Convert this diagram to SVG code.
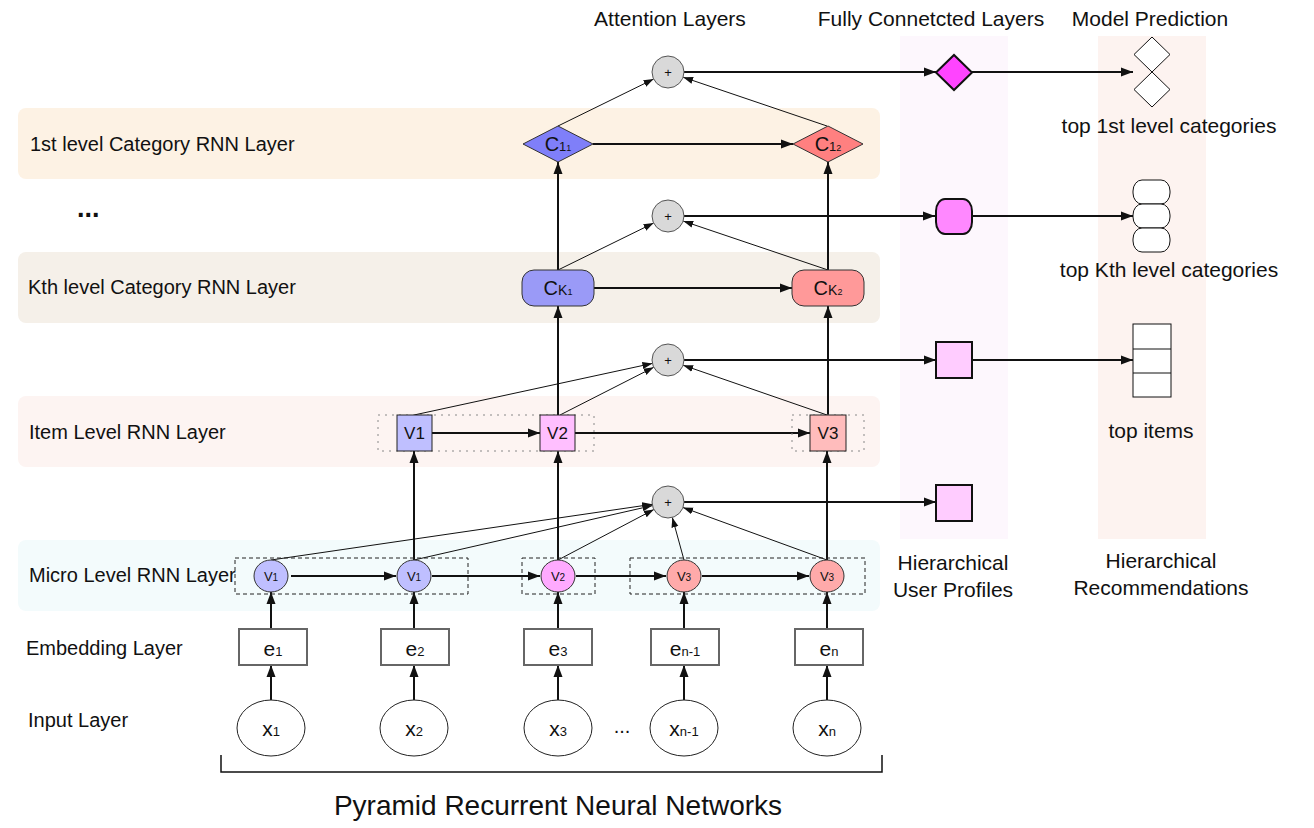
<svg xmlns="http://www.w3.org/2000/svg" width="1314" height="828" viewBox="0 0 1314 828">
<style>
text{font-family:"Liberation Sans",Arial,sans-serif;fill:#111}
.lbl{font-size:20px}
.hdr{font-size:21px}
.thick{stroke:#111;stroke-width:2;fill:none}
.thin{stroke:#111;stroke-width:1;fill:none}
.plus{fill:#d9d9d9;stroke:#555;stroke-width:1}
.ptxt{font-size:13px;text-anchor:middle}
.ebox{fill:#fff;stroke:#666;stroke-width:2}
.xell{fill:#fff;stroke:#222;stroke-width:1}
.dash{fill:none;stroke:#222;stroke-width:1;stroke-dasharray:4 3}
.dot{fill:none;stroke:#888;stroke-width:1;stroke-dasharray:2 5}
.ctr{text-anchor:middle}
.prof{stroke:#111;stroke-width:2}
.rec{fill:#fff;stroke:#111;stroke-width:1}
</style>
<defs>
<marker id="arr" markerUnits="userSpaceOnUse" markerWidth="13" markerHeight="10" refX="12" refY="5" orient="auto"><path d="M0,0.5 L12,5 L0,9.5 z" fill="#111"/></marker>
<marker id="arrS" markerUnits="userSpaceOnUse" markerWidth="11" markerHeight="8" refX="10" refY="4" orient="auto"><path d="M0,0.5 L10,4 L0,7.5 z" fill="#111"/></marker>
</defs>
<rect width="1314" height="828" fill="#fff"/>

<!-- background bands -->
<g id="bands">
<rect x="18" y="108" width="862" height="71" rx="8" fill="#fdf2e4"/>
<rect x="18" y="252" width="862" height="71" rx="8" fill="#f5f0e9"/>
<rect x="18" y="396" width="862" height="71" rx="8" fill="#fdf4f2"/>
<rect x="18" y="540" width="862" height="71" rx="8" fill="#f3fbfc"/>
<rect x="900" y="36" width="108" height="503" fill="#fdf7fd"/>
<rect x="1098" y="36" width="108" height="503" fill="#fdf3f0"/>
</g>

<!-- labels -->
<g id="labels">
<text class="hdr ctr" x="670" y="26">Attention Layers</text>
<text class="hdr ctr" x="931" y="26">Fully Connetcted Layers</text>
<text class="hdr ctr" x="1150" y="26">Model Prediction</text>
<text class="lbl" x="30" y="151">1st level Category RNN Layer</text>
<text x="77" y="217" font-size="27" font-weight="bold">...</text>
<text class="lbl" x="28" y="294">Kth level Category RNN Layer</text>
<text class="lbl" x="29" y="439">Item Level RNN Layer</text>
<text class="lbl" x="29" y="582">Micro Level RNN Layer</text>
<text class="lbl" x="26" y="655">Embedding Layer</text>
<text class="lbl" x="28" y="727">Input Layer</text>
<text class="hdr ctr" x="1169" y="133">top 1st level categories</text>
<text class="hdr ctr" x="1169" y="277">top Kth level categories</text>
<text class="hdr ctr" x="1151" y="438">top items</text>
<text class="hdr ctr" x="953" y="570">Hierarchical</text>
<text class="hdr ctr" x="953" y="597">User Profiles</text>
<text class="hdr ctr" x="1161" y="568">Hierarchical</text>
<text class="hdr ctr" x="1161" y="595">Recommendations</text>
<text class="ctr" x="622" y="733" font-size="20">...</text>
<text class="ctr" x="558" y="815" font-size="28">Pyramid Recurrent Neural Networks</text>
</g>

<!-- connectors -->
<g id="connectors">
<!-- x -> e -->
<line class="thick" x1="271" y1="700" x2="271" y2="665" marker-end="url(#arr)"/>
<line class="thick" x1="414" y1="700" x2="414" y2="665" marker-end="url(#arr)"/>
<line class="thick" x1="558" y1="700" x2="558" y2="665" marker-end="url(#arr)"/>
<line class="thick" x1="684" y1="700" x2="684" y2="665" marker-end="url(#arr)"/>
<line class="thick" x1="827" y1="700" x2="827" y2="665" marker-end="url(#arr)"/>
<!-- e -> micro -->
<line class="thick" x1="271" y1="629" x2="271" y2="592" marker-end="url(#arr)"/>
<line class="thick" x1="414" y1="629" x2="414" y2="592" marker-end="url(#arr)"/>
<line class="thick" x1="558" y1="629" x2="558" y2="592" marker-end="url(#arr)"/>
<line class="thick" x1="684" y1="629" x2="684" y2="592" marker-end="url(#arr)"/>
<line class="thick" x1="827" y1="629" x2="827" y2="592" marker-end="url(#arr)"/>
<!-- micro horizontal -->
<line class="thick" x1="291" y1="576" x2="396" y2="576" marker-end="url(#arr)"/>
<line class="thick" x1="432" y1="576" x2="540" y2="576" marker-end="url(#arr)"/>
<line class="thick" x1="576" y1="576" x2="666" y2="576" marker-end="url(#arr)"/>
<line class="thick" x1="702" y1="576" x2="809" y2="576" marker-end="url(#arr)"/>
<!-- micro -> item -->
<line class="thick" x1="414" y1="560" x2="414" y2="451" marker-end="url(#arr)"/>
<line class="thick" x1="558" y1="560" x2="558" y2="451" marker-end="url(#arr)"/>
<line class="thick" x1="827" y1="560" x2="827" y2="451" marker-end="url(#arr)"/>
<!-- micro -> attention 4 -->
<line class="thin" x1="271" y1="560" x2="652.2" y2="504.3" marker-end="url(#arrS)"/>
<line class="thin" x1="414" y1="560" x2="652.4" y2="505.6" marker-end="url(#arrS)"/>
<line class="thin" x1="558" y1="560" x2="653.9" y2="509.5" marker-end="url(#arrS)"/>
<line class="thin" x1="684" y1="560" x2="672.3" y2="517.4" marker-end="url(#arrS)"/>
<line class="thin" x1="827" y1="560" x2="683" y2="507.5" marker-end="url(#arrS)"/>
<!-- item horizontal -->
<line class="thick" x1="432" y1="433" x2="540" y2="433" marker-end="url(#arr)"/>
<line class="thick" x1="575" y1="433" x2="810" y2="433" marker-end="url(#arr)"/>
<!-- item -> CK -->
<line class="thick" x1="558" y1="415" x2="558" y2="306" marker-end="url(#arr)"/>
<line class="thick" x1="828" y1="415" x2="828" y2="306" marker-end="url(#arr)"/>
<!-- item -> attention 3 -->
<line class="thin" x1="414" y1="415" x2="652.4" y2="363.4" marker-end="url(#arrS)"/>
<line class="thin" x1="560" y1="415" x2="653.7" y2="367.3" marker-end="url(#arrS)"/>
<line class="thin" x1="827" y1="415" x2="683.1" y2="365.2" marker-end="url(#arrS)"/>
<!-- CK horizontal -->
<line class="thick" x1="594" y1="288" x2="792" y2="288" marker-end="url(#arr)"/>
<!-- CK -> C1 -->
<line class="thick" x1="558" y1="270" x2="558" y2="162" marker-end="url(#arr)"/>
<line class="thick" x1="828" y1="270" x2="828" y2="162" marker-end="url(#arr)"/>
<!-- CK -> attention 2 -->
<line class="thin" x1="558" y1="270" x2="653.6" y2="223.1" marker-end="url(#arrS)"/>
<line class="thin" x1="828" y1="270" x2="683.2" y2="221.1" marker-end="url(#arrS)"/>
<!-- C1 horizontal -->
<line class="thick" x1="593" y1="144" x2="793" y2="144" marker-end="url(#arr)"/>
<!-- C1 -> attention 1 -->
<line class="thin" x1="558" y1="126" x2="653.6" y2="79.1" marker-end="url(#arrS)"/>
<line class="thin" x1="827" y1="126" x2="683.1" y2="77.2" marker-end="url(#arrS)"/>
<!-- attention -> profiles -->
<line class="thick" x1="684" y1="72" x2="936" y2="72" marker-end="url(#arr)"/>
<line class="thick" x1="684" y1="216" x2="935" y2="216" marker-end="url(#arr)"/>
<line class="thick" x1="684" y1="360" x2="936" y2="360" marker-end="url(#arr)"/>
<line class="thick" x1="684" y1="502" x2="936" y2="502" marker-end="url(#arr)"/>
<!-- profiles -> recommendations -->
<line class="thick" x1="972" y1="72" x2="1133" y2="72" marker-end="url(#arr)"/>
<line class="thick" x1="972" y1="216" x2="1133" y2="216" marker-end="url(#arr)"/>
<line class="thick" x1="972" y1="360" x2="1133" y2="360" marker-end="url(#arr)"/>
<!-- bracket -->
<path d="M221,755 V772 H882 V755" fill="none" stroke="#111" stroke-width="1.5"/>
</g>

<!-- dashed / dotted groupings -->
<g id="groupings">
<rect class="dot" x="378" y="415" width="216" height="36"/>
<rect class="dot" x="792" y="415" width="72" height="36"/>
<rect class="dash" x="235" y="558" width="233" height="36"/>
<rect class="dash" x="522" y="558" width="73" height="36"/>
<rect class="dash" x="630" y="558" width="235" height="36"/>
</g>

<!-- attention nodes -->
<g id="att1"><circle class="plus" cx="668" cy="72" r="16"/><text class="ptxt" x="668" y="77">+</text></g>
<g id="att2"><circle class="plus" cx="668" cy="216" r="16"/><text class="ptxt" x="668" y="221">+</text></g>
<g id="att3"><circle class="plus" cx="668" cy="360" r="16"/><text class="ptxt" x="668" y="365">+</text></g>
<g id="att4"><circle class="plus" cx="668" cy="502" r="16"/><text class="ptxt" x="668" y="507">+</text></g>

<!-- 1st level category nodes -->
<g id="c11"><polygon points="523,144 558,126 593,144 558,162" fill="#7f7ff9" stroke="#333" stroke-width="1"/>
<text class="ctr" x="558" y="151"><tspan font-size="20">C</tspan><tspan font-size="13">1</tspan><tspan font-size="9">1</tspan></text></g>
<g id="c12"><polygon points="793,144 828,126 863,144 828,162" fill="#ff8080" stroke="#333" stroke-width="1"/>
<text class="ctr" x="828" y="151"><tspan font-size="20">C</tspan><tspan font-size="13">1</tspan><tspan font-size="9">2</tspan></text></g>

<!-- Kth level category nodes -->
<g id="ck1"><rect x="522" y="270" width="72" height="36" rx="12" fill="#9a9af7" stroke="#333" stroke-width="1"/>
<text class="ctr" x="558" y="295"><tspan font-size="20">C</tspan><tspan font-size="14">K</tspan><tspan font-size="9">1</tspan></text></g>
<g id="ck2"><rect x="792" y="270" width="72" height="36" rx="12" fill="#ff9999" stroke="#333" stroke-width="1"/>
<text class="ctr" x="828" y="295"><tspan font-size="20">C</tspan><tspan font-size="14">K</tspan><tspan font-size="9">2</tspan></text></g>

<!-- item nodes -->
<g id="iv1"><rect x="397" y="415" width="35" height="36" fill="#bfbfff" stroke="#222" stroke-width="1"/><text class="ctr" x="414.5" y="439" font-size="17">V1</text></g>
<g id="iv2"><rect x="540" y="415" width="35" height="36" fill="#ffbfff" stroke="#222" stroke-width="1"/><text class="ctr" x="557.5" y="439" font-size="17">V2</text></g>
<g id="iv3"><rect x="810" y="415" width="36" height="36" fill="#ffbcbc" stroke="#222" stroke-width="1"/><text class="ctr" x="828" y="439" font-size="17">V3</text></g>

<!-- micro nodes -->
<g id="mv1a"><ellipse cx="271" cy="576" rx="17" ry="16" fill="#bfbfff" stroke="#333" stroke-width="1"/><text class="ctr" x="271" y="581"><tspan font-size="13">V</tspan><tspan font-size="10">1</tspan></text></g>
<g id="mv1b"><ellipse cx="414" cy="576" rx="17" ry="16" fill="#bfbfff" stroke="#333" stroke-width="1"/><text class="ctr" x="414" y="581"><tspan font-size="13">V</tspan><tspan font-size="10">1</tspan></text></g>
<g id="mv2"><ellipse cx="558" cy="576" rx="17" ry="16" fill="#ffaaff" stroke="#333" stroke-width="1"/><text class="ctr" x="558" y="581"><tspan font-size="13">V</tspan><tspan font-size="10">2</tspan></text></g>
<g id="mv3a"><ellipse cx="684" cy="576" rx="17" ry="16" fill="#ffaaaa" stroke="#333" stroke-width="1"/><text class="ctr" x="684" y="581"><tspan font-size="13">V</tspan><tspan font-size="10">3</tspan></text></g>
<g id="mv3b"><ellipse cx="827" cy="576" rx="17" ry="16" fill="#ffaaaa" stroke="#333" stroke-width="1"/><text class="ctr" x="827" y="581"><tspan font-size="13">V</tspan><tspan font-size="10">3</tspan></text></g>

<!-- embedding nodes -->
<g id="e1"><rect class="ebox" x="239" y="629" width="68" height="36"/><text class="ctr" x="273" y="656"><tspan font-size="21">e</tspan><tspan font-size="13">1</tspan></text></g>
<g id="e2"><rect class="ebox" x="381" y="629" width="68" height="36"/><text class="ctr" x="415" y="656"><tspan font-size="21">e</tspan><tspan font-size="13">2</tspan></text></g>
<g id="e3"><rect class="ebox" x="524" y="629" width="68" height="36"/><text class="ctr" x="558" y="656"><tspan font-size="21">e</tspan><tspan font-size="13">3</tspan></text></g>
<g id="en1"><rect class="ebox" x="651" y="629" width="68" height="36"/><text class="ctr" x="685" y="656"><tspan font-size="21">e</tspan><tspan font-size="13">n-1</tspan></text></g>
<g id="en"><rect class="ebox" x="795" y="629" width="68" height="36"/><text class="ctr" x="829" y="656"><tspan font-size="21">e</tspan><tspan font-size="13">n</tspan></text></g>

<!-- input nodes -->
<g id="x1"><ellipse class="xell" cx="271" cy="728" rx="34" ry="28"/><text class="ctr" x="271" y="736"><tspan font-size="21">x</tspan><tspan font-size="13">1</tspan></text></g>
<g id="x2"><ellipse class="xell" cx="414" cy="728" rx="34" ry="28"/><text class="ctr" x="414" y="736"><tspan font-size="21">x</tspan><tspan font-size="13">2</tspan></text></g>
<g id="x3"><ellipse class="xell" cx="558" cy="728" rx="34" ry="28"/><text class="ctr" x="558" y="736"><tspan font-size="21">x</tspan><tspan font-size="13">3</tspan></text></g>
<g id="xn1"><ellipse class="xell" cx="684" cy="728" rx="34" ry="28"/><text class="ctr" x="684" y="736"><tspan font-size="21">x</tspan><tspan font-size="13">n-1</tspan></text></g>
<g id="xn"><ellipse class="xell" cx="827" cy="728" rx="34" ry="28"/><text class="ctr" x="827" y="736"><tspan font-size="21">x</tspan><tspan font-size="13">n</tspan></text></g>

<!-- user profile nodes -->
<g id="p1"><polygon class="prof" points="936,72.5 954,55 972,72.5 954,90" fill="#ff44ff"/></g>
<g id="p2"><rect class="prof" x="936" y="199" width="36" height="35" rx="9" ry="12" fill="#ff88ff"/></g>
<g id="p3"><rect class="prof" x="936" y="342" width="36" height="36" fill="#ffccff"/></g>
<g id="p4"><rect class="prof" x="936" y="485" width="36" height="36" fill="#ffccff"/></g>

<!-- recommendation nodes -->
<g id="r1"><polygon class="rec" points="1152,37 1170,54.5 1152,72 1134,54.5"/><polygon class="rec" points="1152,72 1170,89.5 1152,107 1134,89.5"/></g>
<g id="r2"><rect class="rec" x="1133" y="180" width="37" height="24" rx="9" ry="11"/><rect class="rec" x="1133" y="204" width="37" height="24" rx="9" ry="11"/><rect class="rec" x="1133" y="228" width="37" height="24" rx="9" ry="11"/></g>
<g id="r3"><rect class="rec" x="1133" y="324" width="38" height="73"/><line class="rec" x1="1133" y1="349" x2="1171" y2="349"/><line class="rec" x1="1133" y1="373" x2="1171" y2="373"/></g>
</svg>
